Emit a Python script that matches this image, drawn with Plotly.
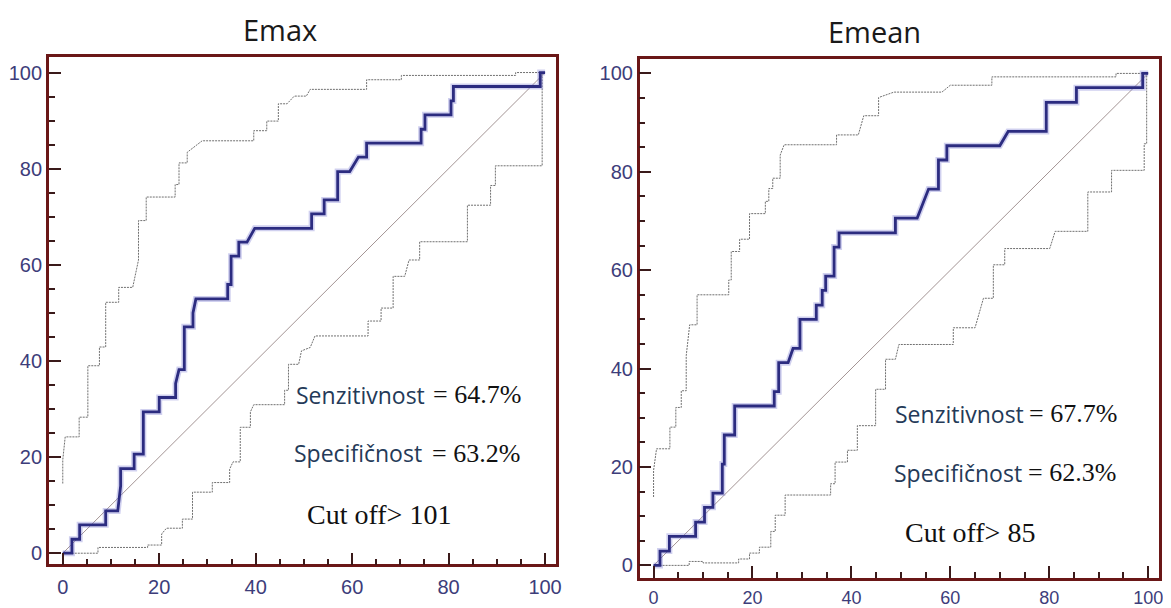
import plotly.graph_objects as go

# ---------------- Data ----------------
# Emax panel
emax_roc_x = [0, 1.9, 1.9, 3.5, 3.5, 8.9, 8.9, 11.4, 12.0, 12.0, 14.8, 14.8, 16.7, 16.7, 20.0, 20.0,
              23.4, 23.4, 24.1, 25.2, 25.2, 27.0, 27.0, 27.6, 34.2, 34.2, 34.9, 34.9, 36.5, 36.5,
              38.2, 39.8, 51.6, 51.6, 54.2, 54.2, 57.0, 57.0, 59.5, 61.3, 63.0, 63.0, 74.3, 74.3,
              75.1, 75.1, 80.5, 80.5, 81.0, 81.0, 99.0, 99.0, 100]
emax_roc_y = [0, 0, 2.9, 2.9, 5.9, 5.9, 8.8, 8.8, 14.0, 17.6, 17.6, 20.6, 20.6, 29.4, 29.4, 32.4,
              32.4, 35.3, 38.2, 38.2, 47.1, 47.1, 50.0, 52.9, 52.9, 55.9, 55.9, 61.8, 61.8, 64.7,
              64.7, 67.6, 67.6, 70.6, 70.6, 73.5, 73.5, 79.4, 79.4, 82.4, 82.4, 85.3, 85.3, 88.2,
              88.2, 91.2, 91.2, 94.1, 94.1, 97.1, 97.1, 100, 100]

emax_up_x = [0, 0, 0.5, 3.4, 3.4, 5.2, 5.2, 7.6, 7.6, 8.9, 8.9, 11.6, 11.6, 14.5, 15.7, 15.7,
             17.3, 17.3, 23.3, 23.3, 24.1, 24.1, 25.8, 25.8, 28.9, 39.6, 39.6, 42.3, 42.3, 44.7,
             44.7, 46.5, 48.0, 50.5, 51.3, 63.0, 63.0, 70.2, 70.2, 93.9, 93.9, 100]
emax_up_y = [14.5, 19.4, 24.2, 24.2, 28.3, 28.3, 39.0, 39.0, 42.9, 42.9, 52.2, 52.2, 55.3, 55.3,
             61.0, 69.2, 69.2, 74.1, 74.1, 76.7, 76.7, 81.2, 81.2, 83.4, 85.8, 85.8, 87.9, 87.9,
             89.9, 89.9, 93.5, 93.5, 95.1, 95.1, 96.5, 96.5, 98.5, 98.5, 99.4, 99.4, 100, 100]

emax_lo_x = [0, 7.3, 7.3, 17.6, 17.6, 20.5, 20.5, 21.5, 24.8, 24.8, 26.9, 26.9, 31.0, 31.0, 34.6,
             34.6, 35.3, 36.8, 36.8, 38.9, 38.9, 39.6, 46.0, 46.0, 46.8, 46.8, 48.9, 49.5, 51.3,
             52.3, 63.3, 63.3, 66.0, 66.0, 68.5, 68.5, 70.9, 71.8, 74.0, 74.0, 83.9, 83.9, 88.7,
             88.7, 89.7, 89.7, 99.4, 99.4, 100]
emax_lo_y = [0, 0, 1.2, 1.2, 1.7, 1.7, 4.0, 5.2, 5.2, 7.1, 7.1, 12.7, 12.7, 14.7, 14.7, 17.5, 19.0,
             19.0, 26.2, 26.2, 29.4, 30.9, 30.9, 33.9, 33.9, 39.3, 39.3, 42.1, 42.8, 45.2, 45.2,
             48.3, 48.3, 51.0, 51.0, 57.6, 57.6, 61.0, 61.0, 64.8, 64.8, 72.4, 72.4, 76.5, 76.5,
             80.6, 80.6, 100, 100]

# Emean panel
emean_roc_x = [0, 1.3, 1.3, 3.2, 3.2, 8.5, 8.5, 10.3, 10.3, 12.0, 12.0, 13.9, 13.9, 14.3, 14.3,
               16.4, 16.4, 24.4, 24.4, 25.3, 25.3, 27.2, 28.2, 29.6, 29.6, 32.9, 32.9, 34.1, 34.1,
               34.8, 34.8, 36.5, 36.5, 37.5, 37.5, 48.9, 48.9, 53.3, 55.6, 57.6, 57.6, 59.3, 59.3,
               70.0, 71.7, 79.4, 79.4, 85.5, 85.5, 98.9, 98.9, 100]
emean_roc_y = [0, 0, 2.9, 2.9, 5.9, 5.9, 8.8, 8.8, 11.8, 11.8, 14.7, 14.7, 20.6, 20.6, 26.5, 26.5,
               32.4, 32.4, 35.3, 35.3, 41.2, 41.2, 44.1, 44.1, 50.0, 50.0, 52.9, 52.9, 55.9, 55.9,
               58.8, 58.8, 64.7, 64.7, 67.6, 67.6, 70.6, 70.6, 76.5, 76.5, 82.4, 82.4, 85.3, 85.3,
               88.2, 88.2, 94.1, 94.1, 97.1, 97.1, 100, 100]

emean_up_x = [0, 0, 0.6, 3.3, 3.3, 4.5, 4.5, 5.6, 5.6, 6.6, 6.6, 7.3, 8.8, 8.8, 15.2, 15.2, 15.7,
              15.7, 17.4, 17.4, 19.4, 19.4, 22.6, 22.6, 23.3, 23.3, 24.1, 24.1, 25.6, 25.6, 26.4,
              37.0, 37.0, 41.4, 42.5, 45.5, 45.5, 48.6, 58.3, 60.0, 68.4, 68.4, 93.5, 93.5, 100]
emean_up_y = [13.9, 19.3, 23.7, 23.7, 28.1, 28.1, 32.1, 32.1, 35.5, 35.5, 42.6, 48.9, 48.9, 55.0,
              55.0, 58.0, 58.0, 63.8, 63.8, 66.3, 66.3, 71.5, 71.5, 74.0, 74.0, 76.6, 76.6, 78.7,
              78.7, 83.4, 85.5, 85.5, 87.5, 87.5, 91.4, 91.4, 95.1, 96.2, 96.2, 97.6, 97.6, 99.3,
              99.3, 100, 100]

emean_lo_x = [0, 7.2, 7.2, 10.0, 10.0, 17.2, 17.2, 19.4, 19.4, 21.4, 21.4, 23.7, 23.7, 24.6, 24.6,
              26.6, 26.6, 35.8, 35.8, 36.7, 36.7, 39.2, 39.2, 41.2, 41.2, 44.9, 44.9, 46.9, 46.9,
              48.9, 49.6, 60.6, 60.6, 65.0, 66.7, 68.7, 68.7, 71.0, 71.0, 80.1, 81.2, 87.8, 87.8,
              92.6, 92.6, 99.2, 99.2, 99.7, 99.7, 100]
emean_lo_y = [0, 0, 0.8, 0.8, 0.5, 0.5, 1.3, 1.3, 2.5, 2.5, 3.7, 3.7, 6.9, 6.9, 10.2, 10.2, 14.3,
              14.3, 16.6, 16.6, 21.0, 21.0, 23.4, 23.4, 28.4, 28.4, 35.8, 35.8, 41.9, 41.9, 44.9,
              44.9, 48.3, 48.3, 54.3, 54.3, 61.1, 61.1, 64.4, 64.4, 67.9, 67.9, 75.9, 75.9, 80.3,
              80.3, 85.7, 85.7, 100, 100]

diag_x = [0, 100]
diag_y = [0, 100]

titles = ["Emax", "Emean"]
sens_label = "Senzitivnost"
spec_label = "Specifičnost"
sens_values = ["= 64.7%", "= 67.7%"]
spec_values = ["= 63.2%", "= 62.3%"]
cutoffs = ["Cut off&gt; 101", "Cut off&gt; 85"]

# ---------------- Styles ----------------
ROC_COLOR = "#2c2c80"
GLOW_COLOR = "rgba(120,120,210,0.35)"
BAND_COLOR = "#707070"
DIAG_COLOR = "#a39494"
FRAME_COLOR = "#6a1717"
TICK_COLOR = "#3a1a1a"
TICKFONT = dict(family="Liberation Sans, Arial", size=20, color="#3d3d7a")
TICKFONT_SMALL = dict(family="Liberation Sans, Arial", size=18, color="#3d3d7a")
LABEL_FONT = dict(family="Open Sans", size=23, color="#243a58")
VALUE_FONT = dict(family="Liberation Serif, Times New Roman", size=26, color="#111111")
CUT_FONT = dict(family="Liberation Serif, Times New Roman", size=28, color="#111111")

fig = go.Figure()

panels = [
    ("x", "y", emax_roc_x, emax_roc_y, emax_up_x, emax_up_y, emax_lo_x, emax_lo_y),
    ("x2", "y2", emean_roc_x, emean_roc_y, emean_up_x, emean_up_y, emean_lo_x, emean_lo_y),
]

for xa, ya, rx, ry, ux, uy, lx, ly in panels:
    fig.add_trace(go.Scatter(x=diag_x, y=diag_y, mode="lines", xaxis=xa, yaxis=ya,
                             line=dict(color=DIAG_COLOR, width=1), hoverinfo="skip"))
    fig.add_trace(go.Scatter(x=ux, y=uy, mode="lines", xaxis=xa, yaxis=ya,
                             line=dict(color=BAND_COLOR, width=1, dash="2px,1px")))
    fig.add_trace(go.Scatter(x=lx, y=ly, mode="lines", xaxis=xa, yaxis=ya,
                             line=dict(color=BAND_COLOR, width=1, dash="2px,1px")))
    fig.add_trace(go.Scatter(x=rx, y=ry, mode="lines", xaxis=xa, yaxis=ya,
                             line=dict(color=GLOW_COLOR, width=6), hoverinfo="skip"))
    fig.add_trace(go.Scatter(x=rx, y=ry, mode="lines", xaxis=xa, yaxis=ya,
                             line=dict(color=ROC_COLOR, width=2.8)))

def axis_style(domain, rng, anchor, standoff, font=TICKFONT):
    return dict(domain=domain, range=rng, anchor=anchor, showline=True, linecolor=FRAME_COLOR,
                linewidth=2.5, mirror=True, showgrid=False, zeroline=False,
                ticks="inside", ticklen=12, tickwidth=2, tickcolor=TICK_COLOR,
                tick0=0, dtick=20, tickfont=font, ticklabelstandoff=standoff,
                minor=dict(ticks="inside", ticklen=6, tickwidth=1.5, tickcolor=TICK_COLOR,
                           tick0=0, dtick=5, showgrid=False))

# The page body adds an 8px margin, so the figure is 8px smaller than the window
fig.update_layout(
    width=1163, height=600, margin=dict(l=0, r=0, t=0, b=0),
    paper_bgcolor="white", plot_bgcolor="white", showlegend=False,
    xaxis=axis_style([0.03525, 0.47377], [-2.9, 102.3], "y", 3),
    yaxis=axis_style([0.06667, 0.91833], [-2.3, 103.3], "x", 0),
    xaxis2=axis_style([0.54600, 0.99484], [-2.8, 102.2], "y2", 1, TICKFONT_SMALL),
    yaxis2=axis_style([0.04333, 0.91500], [-2.6, 103.0], "x2", 0),
)

ann = []
title_pos = [(0.2347, 0.9635), (0.7489, 0.9610)]
for t, (px, py) in zip(titles, title_pos):
    ann.append(dict(text=t, x=px, y=py, xref="paper", yref="paper", showarrow=False,
                    xanchor="center", yanchor="middle",
                    font=dict(family="Open Sans", size=29, color="#1a1a1a")))

text_pos = [
    # xref, yref, label right x, value left x, sens y, spec label right, spec value left, spec y, cut x, cut y
    ("x", "y", 75.5, 76.4, 33.0, 74.8, 76.2, 20.8, 50.2, 8.1),
    ("x2", "y2", 75.3, 75.5, 30.8, 74.9, 75.4, 18.8, 50.5, 6.6),
]
for i, (xr, yr, slx, svx, sy, plx, pvx, py, cx, cy) in enumerate(text_pos):
    ann.append(dict(text=sens_label, x=slx, y=sy, xref=xr, yref=yr, showarrow=False,
                    xanchor="right", yanchor="middle", font=LABEL_FONT))
    ann.append(dict(text=sens_values[i], x=svx, y=sy, xref=xr, yref=yr, showarrow=False,
                    xanchor="left", yanchor="middle", font=VALUE_FONT))
    ann.append(dict(text=spec_label, x=plx, y=py, xref=xr, yref=yr, showarrow=False,
                    xanchor="right", yanchor="middle", font=LABEL_FONT))
    ann.append(dict(text=spec_values[i], x=pvx, y=py, xref=xr, yref=yr, showarrow=False,
                    xanchor="left", yanchor="middle", font=VALUE_FONT))
    ann.append(dict(text=cutoffs[i], x=cx, y=cy, xref=xr, yref=yr, showarrow=False,
                    xanchor="left", yanchor="middle", font=CUT_FONT))

fig.update_layout(annotations=ann)

fig.write_html("out.html")
